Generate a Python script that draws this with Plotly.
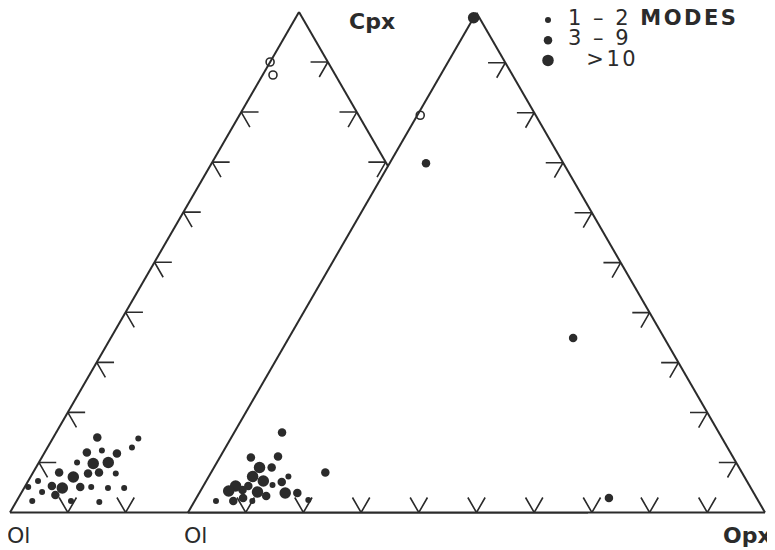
import plotly.graph_objects as go

# ---------------- data (modal compositions, %) ----------------
# Left diagram (Ol - Cpx - Opx)
LEFT_CPX = [15.0, 14.8, 13.0, 12.0, 12.4, 11.8, 10.0, 9.8, 10.0, 8.0, 7.1, 7.8, 8.0, 7.8,
            6.3, 5.3, 4.9, 5.1, 5.1, 4.9, 4.9, 5.1, 4.1, 3.5, 2.3, 2.3, 2.1]
LEFT_OPX = [7.6, 14.8, 14.6, 7.3, 9.7, 12.6, 6.6, 9.5, 12.0, 4.5, 7.4, 9.6, 11.4, 14.4,
            1.7, 4.6, 6.6, 9.6, 11.5, 14.5, 17.3, 0.6, 3.5, 6.1, 2.7, 9.4, 14.4]
LEFT_OL = [77.4, 70.4, 72.4, 80.7, 77.9, 75.6, 83.4, 80.7, 78.0, 87.5, 85.5, 82.6, 80.6, 77.8,
           92.0, 90.1, 88.5, 85.3, 83.4, 80.6, 77.8, 94.3, 92.4, 90.4, 95.0, 88.3, 83.5]
LEFT_MODES = ["m", "s", "s", "m", "s", "m", "s", "l", "l", "m", "l", "m", "m", "s",
              "s", "m", "l", "m", "s", "s", "s", "s", "s", "m", "s", "s", "s"]

LEFT_OPEN_CPX = [90.0, 87.4]
LEFT_OPEN_OPX = [0.0, 1.8]
LEFT_OPEN_OL = [10.0, 10.8]

# Right diagram (Ol - ? - Opx)
RIGHT_CPX = [16.0, 11.0, 11.2, 9.0, 9.0, 7.2, 7.2, 6.3, 6.1, 5.5, 5.3, 5.3, 4.3, 4.5,
             4.1, 3.9, 3.9, 3.3, 2.9, 2.3, 2.3, 2.3, 2.5, 8.0, 69.9, 34.9, 2.9, 99.0]
RIGHT_OPX = [8.3, 5.4, 10.0, 7.9, 10.0, 7.6, 13.8, 9.9, 13.2, 11.9, 5.6, 7.8, 4.9, 7.2,
             10.0, 14.9, 17.0, 11.9, 8.1, 3.7, 6.7, 10.0, 19.6, 19.8, 6.3, 49.3, 71.5, 0.0]
RIGHT_OL = [75.7, 83.6, 78.8, 83.1, 81.0, 85.2, 79.0, 83.8, 80.7, 82.6, 89.1, 86.9, 90.8, 88.3,
            85.9, 81.2, 79.1, 84.8, 89.0, 94.0, 91.0, 87.7, 77.9, 72.2, 23.8, 15.8, 25.6, 1.0]
RIGHT_MODES = ["m", "m", "m", "l", "m", "l", "s", "l", "m", "s", "l", "m", "l", "m",
               "l", "l", "m", "m", "m", "s", "m", "s", "s", "m", "m", "m", "m", "l"]

RIGHT_OPEN_CPX = [79.5]
RIGHT_OPEN_OPX = [0.5]
RIGHT_OPEN_OL = [20.0]

MODE_CLASSES = ["s", "m", "l"]
MODE_NAMES = ["1 – 2 <b>MODES</b>", "3 – 9", "\u00a0\u00a0>10"]

# tick positions (%) along the sides
LEFT_SIDE_TICKS_L = [10, 20, 30, 40, 50, 60, 70, 80]   # Ol–Cpx side, left diagram
RIGHT_SIDE_TICKS_L = [70, 80, 90]                       # Cpx–Opx side, left diagram
BASE_TICKS_L = [10, 20]                                 # Ol–Opx side, left diagram
RIGHT_SIDE_TICKS_R = [10, 20, 30, 40, 50, 60, 70, 80, 90]
BASE_TICKS_R = [10, 20, 30, 40, 50, 60, 70, 80, 90]

# ---------------- styling ----------------
PAGE_MARGIN = 8                      # default body margin of the html page
W, H = 775 - PAGE_MARGIN, 550 - PAGE_MARGIN
INK = "#2b2b2b"
MARK_SIZE = {"s": 6, "m": 8.5, "l": 11.5}
ARM = 3.0
FONT = "DejaVu Sans"


def px_x(x):
    return (x - PAGE_MARGIN) / W


def px_y(y):
    return 1 - (y - PAGE_MARGIN) / H


def domain_for(x_left_px, side_px, base_px):
    h = side_px * 3 ** 0.5 / 2
    top = base_px - h
    yc = px_y((top + base_px) / 2)
    half = min(1 - yc, yc) - 0.001
    return dict(x=[px_x(x_left_px), px_x(x_left_px + side_px)], y=[yc - half, yc + half])


def chevrons(left_side, right_side, base):
    A, B, C = [], [], []

    def add(pts):
        for p in pts:
            A.append(p[0]); B.append(p[1]); C.append(p[2])
        A.append(None); B.append(None); C.append(None)

    for t in left_side:
        add([(t, 100 - t - ARM, ARM), (t, 100 - t, 0), (t - ARM, 100 - t, ARM)])
    for t in right_side:
        add([(t, ARM, 100 - t - ARM), (t, 0, 100 - t), (t - ARM, ARM, 100 - t)])
    for t in base:
        add([(ARM, 100 - t, t - ARM), (0, 100 - t, t), (ARM, 100 - t - ARM, t)])
    return A, B, C


fig = go.Figure()


def add_diagram(sub, cpx, opx, ol, modes, ocpx, oopx, ool, ticks, legend):
    ta, tb, tc = chevrons(*ticks)
    fig.add_trace(go.Scatterternary(
        a=ta, b=tb, c=tc, mode="lines", subplot=sub, showlegend=False,
        line=dict(color=INK, width=1.6), hoverinfo="skip", cliponaxis=False))
    for cls, name in zip(MODE_CLASSES, MODE_NAMES):
        idx = [i for i, m in enumerate(modes) if m == cls]
        fig.add_trace(go.Scatterternary(
            a=[cpx[i] for i in idx], b=[ol[i] for i in idx], c=[opx[i] for i in idx],
            mode="markers", subplot=sub, name=name, showlegend=legend,
            legendgroup=cls, cliponaxis=False,
            marker=dict(size=MARK_SIZE[cls], color=INK, line=dict(width=0))))
    fig.add_trace(go.Scatterternary(
        a=ocpx, b=ool, c=oopx, mode="markers", subplot=sub, showlegend=False,
        cliponaxis=False,
        marker=dict(symbol="circle-open", size=8, color=INK, line=dict(width=1.6))))


add_diagram("ternary", LEFT_CPX, LEFT_OPX, LEFT_OL, LEFT_MODES,
            LEFT_OPEN_CPX, LEFT_OPEN_OPX, LEFT_OPEN_OL,
            (LEFT_SIDE_TICKS_L, RIGHT_SIDE_TICKS_L, BASE_TICKS_L), False)
add_diagram("ternary2", RIGHT_CPX, RIGHT_OPX, RIGHT_OL, RIGHT_MODES,
            RIGHT_OPEN_CPX, RIGHT_OPEN_OPX, RIGHT_OPEN_OL,
            ([], RIGHT_SIDE_TICKS_R, BASE_TICKS_R), True)

axis = dict(showticklabels=False, ticks="", showgrid=False, showline=True,
            linecolor=INK, linewidth=2, title=dict(text=""))

fig.update_layout(
    width=W, height=H, margin=dict(l=0, r=0, t=0, b=0, autoexpand=False),
    paper_bgcolor="white", plot_bgcolor="white",
    ternary=dict(sum=100, bgcolor="white", domain=domain_for(10, 578, 512.5),
                 aaxis=axis, baxis=axis, caxis=axis),
    ternary2=dict(sum=100, bgcolor="white", domain=domain_for(188, 577, 512.5),
                  aaxis=axis, baxis=axis, caxis=axis),
    showlegend=True,
    legend=dict(x=px_x(528), y=px_y(5), xanchor="left", yanchor="top",
                bgcolor="rgba(0,0,0,0)", itemsizing="trace",
                font=dict(family=FONT, size=13.2, color=INK),
                tracegroupgap=0),
    font=dict(family=FONT, color=INK),
)

# legend text drawn larger than the legend row height
for tr in fig.data:
    if tr.showlegend:
        tr.name = "<span style='font-size:21px;letter-spacing:2.5px'>" + tr.name + "</span>"

labels = [("<b>Cpx</b>", 347, 21), ("Ol", 5, 535), ("Ol", 182, 535), ("<b>Opx</b>", 721, 535)]
for txt, xp, yp in labels:
    fig.add_annotation(text=txt, x=px_x(xp), y=px_y(yp), xref="paper", yref="paper",
                       xanchor="left", yanchor="middle", showarrow=False,
                       font=dict(family=FONT, size=22, color=INK))

fig.write_html("out.html")
